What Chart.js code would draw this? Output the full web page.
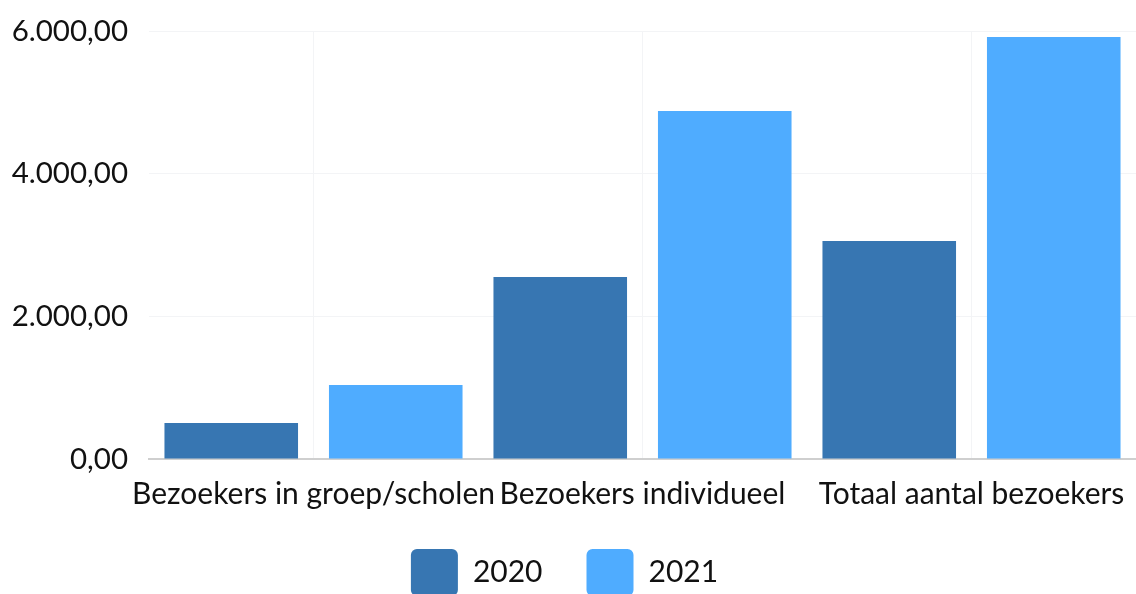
<!DOCTYPE html>
<html>
<head>
<meta charset="utf-8">
<script src="https://cdn.jsdelivr.net/npm/chart.js@4.4.1/dist/chart.umd.min.js"></script>
<style>
html,body{margin:0;padding:0;background:#fff;}
#wrap{width:1136px;height:594px;position:relative;}
</style>
</head>
<body>
<div id="wrap"><canvas id="c" width="1136" height="594"></canvas></div>
<script>
const categories = ["Bezoekers in groep/scholen", "Bezoekers individueel", "Totaal aantal bezoekers"];
const seriesNames = ["2020", "2021"];
const values2020 = [505, 2551, 3056];
const values2021 = [1037, 4879, 5916];
const yTicks = [0, 2000, 4000, 6000];

function fmt(v){
  const s = Math.round(Math.abs(v)).toString();
  const withDots = s.replace(/\B(?=(\d{3})+(?!\d))/g, ".");
  return (v<0?"-":"") + withDots + ",00";
}

Chart.defaults.font.family = "Lato";
Chart.defaults.color = "#111";

// let x-axis labels overflow their (shortened) box without being clipped
const labelRoom = {
  id: "labelRoom",
  afterLayout(chart) { chart.scales.x.bottom = chart.height; }
};

new Chart(document.getElementById("c"), {
  type: "bar",
  plugins: [labelRoom],
  data: {
    labels: categories,
    datasets: [
      {label: seriesNames[0], data: values2020, backgroundColor: "#3776b2", borderWidth: 0},
      {label: seriesNames[1], data: values2021, backgroundColor: "#4facff", borderWidth: 0}
    ]
  },
  options: {
    responsive: false,
    animation: false,
    devicePixelRatio: 1,
    layout: {padding: {left: -11, right: -4, top: 31, bottom: -12}},
    datasets: {bar: {categoryPercentage: 1.0, barPercentage: 0.812}},
    plugins: {
      legend: {
        position: "bottom",
        labels: {
          font: {size: 30},
          boxWidth: 47,
          boxHeight: 47,
          useBorderRadius: true,
          borderRadius: 6,
          padding: 44,
          color: "#111"
        }
      },
      tooltip: {enabled: false}
    },
    scales: {
      x: {
        grid: {offset: false, color: "#f3f4f6", drawTicks: false},
        border: {color: "#cfcfcf", width: 2},
        ticks: {font: {size: 30, lineHeight: 0.733}, color: "#111", padding: 24, maxRotation: 0, autoSkip: false},
        afterFit: (axis) => { axis.height = 46; axis.paddingLeft = 0; axis.paddingRight = 0; }
      },
      y: {
        min: 0, max: 6000,
        afterBuildTicks: (axis) => { axis.ticks = yTicks.map(v => ({value: v})); },
        grid: {color: "#f3f4f6", drawTicks: false},
        border: {display: false},
        ticks: {font: {size: 29.5, lineHeight: 1}, color: "#111", padding: 21, callback: (v) => fmt(v)},
        afterFit: (axis) => { axis.width = 160; axis.paddingTop = 0; axis.paddingBottom = 0; }
      }
    }
  }
});
</script>
</body>
</html>
